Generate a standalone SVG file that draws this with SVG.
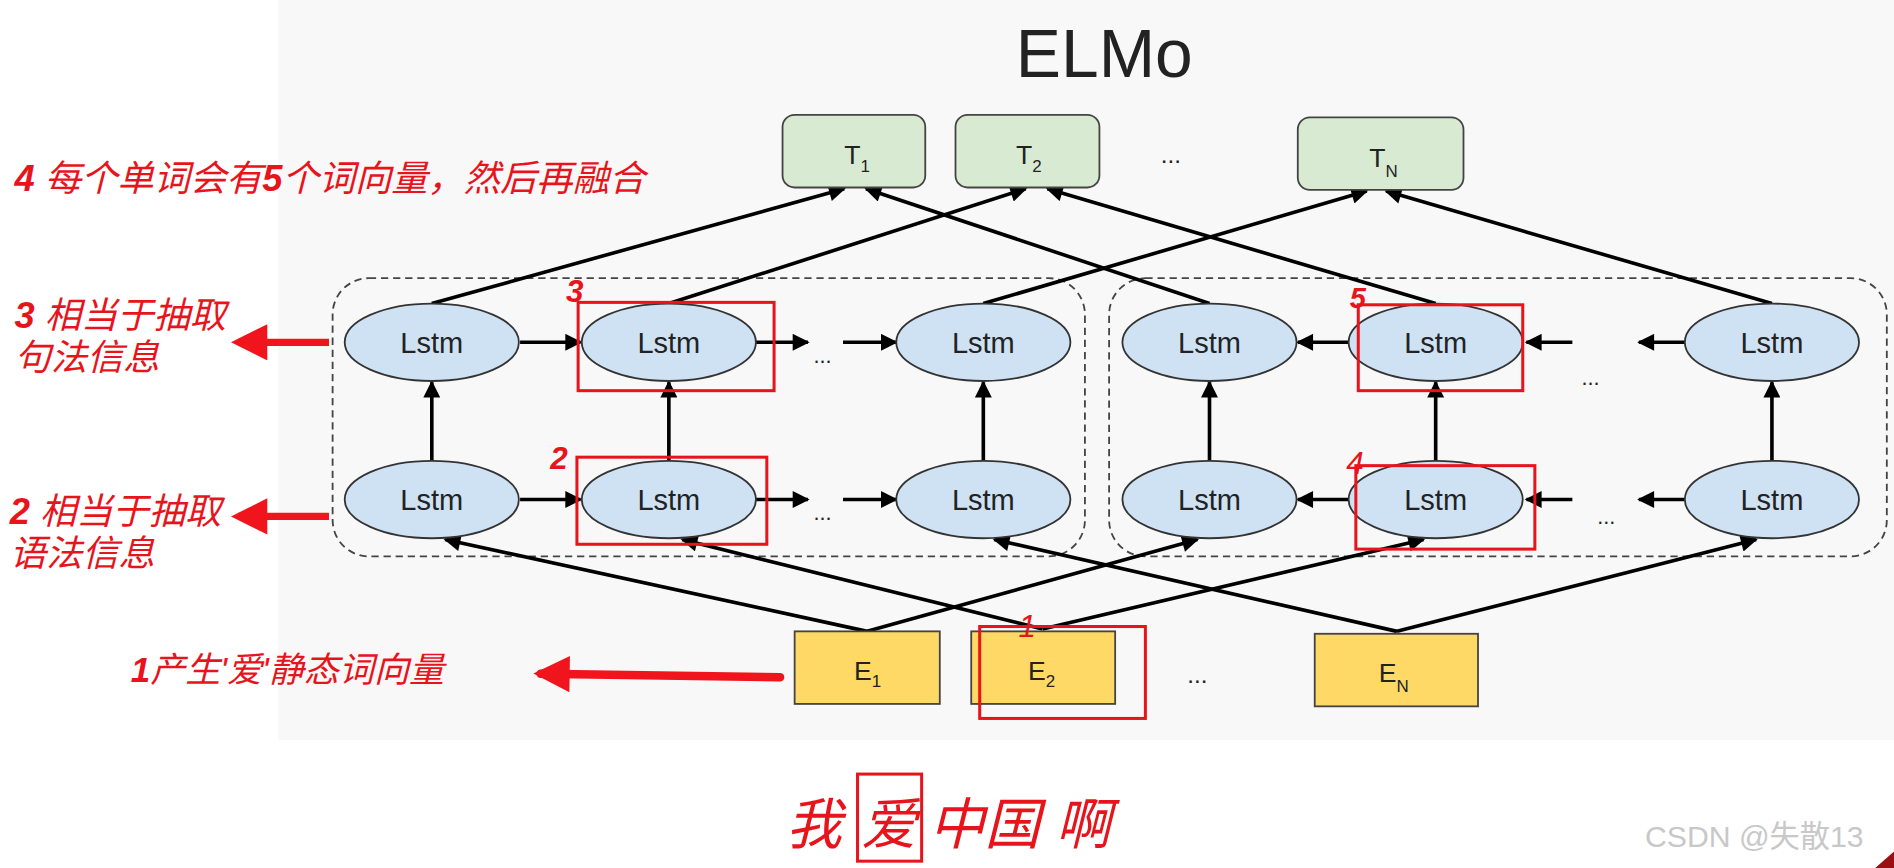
<svg xmlns="http://www.w3.org/2000/svg" width="1894" height="868" viewBox="0 0 1894 868">
<style>
.t{font-family:"Liberation Sans",Arial,sans-serif;fill:#222}
.box{stroke:#444;stroke-width:1.5}
.ell{fill:#cfe2f3;stroke:#333;stroke-width:1.5}
.ln{stroke:#000;stroke-width:3;fill:none}
.red{font-family:"Liberation Sans","Noto Sans CJK SC",sans-serif;font-style:italic;fill:#e8141c}
.b{font-weight:bold}
.rb{fill:none;stroke:#e8141c;stroke-width:2.5}
.dash{fill:none;stroke:#444;stroke-width:1.5;stroke-dasharray:6,4}
</style>
<defs>
<marker id="a" viewBox="0 0 10 10" refX="9" refY="5" markerWidth="16" markerHeight="14" orient="auto" markerUnits="userSpaceOnUse"><path d="M0,0 L10,5 L0,10 z" fill="#000"/></marker>
<marker id="ra" viewBox="0 0 10 10" refX="8" refY="5" markerWidth="34" markerHeight="30" orient="auto" markerUnits="userSpaceOnUse"><path d="M0,0 L10,5 L0,10 z" fill="#f0141c"/></marker>
</defs>
<rect width="1894" height="868" fill="#fff"/>
<g transform="scale(1.2095)">
<rect x="230" y="0" width="1336" height="612" fill="#f8f8f8"/>
<text class="t" x="913" y="64" font-size="56" text-anchor="middle">ELMo</text>

<g id="containers">
<rect class="dash" x="275" y="230" width="622" height="230" rx="30"/>
<rect class="dash" x="917" y="230" width="643" height="230" rx="30"/>
</g>

<g id="connectors">
<line class="ln" marker-end="url(#a)" x1="357" y1="251" x2="698" y2="156"/>
<line class="ln" marker-end="url(#a)" x1="553" y1="251" x2="848" y2="156"/>
<line class="ln" marker-end="url(#a)" x1="813" y1="251" x2="1130" y2="158"/>
<line class="ln" marker-end="url(#a)" x1="1000" y1="251" x2="716" y2="156"/>
<line class="ln" marker-end="url(#a)" x1="1187" y1="251" x2="866" y2="156"/>
<line class="ln" marker-end="url(#a)" x1="1465" y1="251" x2="1146" y2="158"/>
<line class="ln" marker-end="url(#a)" x1="357" y1="381" x2="357" y2="316"/>
<line class="ln" marker-end="url(#a)" x1="553" y1="381" x2="553" y2="316"/>
<line class="ln" marker-end="url(#a)" x1="813" y1="381" x2="813" y2="316"/>
<line class="ln" marker-end="url(#a)" x1="1000" y1="381" x2="1000" y2="316"/>
<line class="ln" marker-end="url(#a)" x1="1187" y1="381" x2="1187" y2="316"/>
<line class="ln" marker-end="url(#a)" x1="1465" y1="381" x2="1465" y2="316"/>
<line class="ln" marker-end="url(#a)" x1="430" y1="283" x2="480" y2="283"/>
<line class="ln" marker-end="url(#a)" x1="625" y1="283" x2="668" y2="283"/>
<line class="ln" marker-end="url(#a)" x1="697" y1="283" x2="741" y2="283"/>
<line class="ln" marker-end="url(#a)" x1="1115" y1="283" x2="1073" y2="283"/>
<line class="ln" marker-end="url(#a)" x1="1300" y1="283" x2="1262" y2="283"/>
<line class="ln" marker-end="url(#a)" x1="1393" y1="283" x2="1355" y2="283"/>
<line class="ln" marker-end="url(#a)" x1="430" y1="413" x2="480" y2="413"/>
<line class="ln" marker-end="url(#a)" x1="625" y1="413" x2="668" y2="413"/>
<line class="ln" marker-end="url(#a)" x1="697" y1="413" x2="741" y2="413"/>
<line class="ln" marker-end="url(#a)" x1="1115" y1="413" x2="1073" y2="413"/>
<line class="ln" marker-end="url(#a)" x1="1300" y1="413" x2="1262" y2="413"/>
<line class="ln" marker-end="url(#a)" x1="1393" y1="413" x2="1355" y2="413"/>
<line class="ln" marker-end="url(#a)" x1="717" y1="522" x2="368" y2="446"/>
<line class="ln" marker-end="url(#a)" x1="717" y1="522" x2="990" y2="446"/>
<line class="ln" marker-end="url(#a)" x1="862" y1="520" x2="564" y2="446"/>
<line class="ln" marker-end="url(#a)" x1="862" y1="520" x2="1177" y2="446"/>
<line class="ln" marker-end="url(#a)" x1="1155" y1="522" x2="822" y2="446"/>
<line class="ln" marker-end="url(#a)" x1="1155" y1="522" x2="1452" y2="446"/>
</g>

<g id="T1"><rect class="box" x="647" y="95" width="118" height="60" rx="10" fill="#d9ead3"/><text class="t" x="698" y="136" font-size="22">T<tspan font-size="14" dy="6">1</tspan></text></g>
<g id="T2"><rect class="box" x="790" y="95" width="119" height="60" rx="10" fill="#d9ead3"/><text class="t" x="840" y="136" font-size="22">T<tspan font-size="14" dy="6">2</tspan></text></g>
<text class="t" x="968" y="135" font-size="20" text-anchor="middle">...</text>
<g id="TN"><rect class="box" x="1073" y="97" width="137" height="60" rx="10" fill="#d9ead3"/><text class="t" x="1132" y="138" font-size="22">T<tspan font-size="14" dy="8">N</tspan></text></g>

<g id="L1"><ellipse class="ell" cx="357" cy="283" rx="72" ry="32"/><text class="t" x="357" y="292" font-size="24" text-anchor="middle">Lstm</text></g>
<g id="L2"><ellipse class="ell" cx="553" cy="283" rx="72" ry="32"/><text class="t" x="553" y="292" font-size="24" text-anchor="middle">Lstm</text></g>
<g id="L3"><ellipse class="ell" cx="813" cy="283" rx="72" ry="32"/><text class="t" x="813" y="292" font-size="24" text-anchor="middle">Lstm</text></g>
<g id="L4"><ellipse class="ell" cx="1000" cy="283" rx="72" ry="32"/><text class="t" x="1000" y="292" font-size="24" text-anchor="middle">Lstm</text></g>
<g id="L5"><ellipse class="ell" cx="1187" cy="283" rx="72" ry="32"/><text class="t" x="1187" y="292" font-size="24" text-anchor="middle">Lstm</text></g>
<g id="L6"><ellipse class="ell" cx="1465" cy="283" rx="72" ry="32"/><text class="t" x="1465" y="292" font-size="24" text-anchor="middle">Lstm</text></g>
<g id="B1"><ellipse class="ell" cx="357" cy="413" rx="72" ry="32"/><text class="t" x="357" y="422" font-size="24" text-anchor="middle">Lstm</text></g>
<g id="B2"><ellipse class="ell" cx="553" cy="413" rx="72" ry="32"/><text class="t" x="553" y="422" font-size="24" text-anchor="middle">Lstm</text></g>
<g id="B3"><ellipse class="ell" cx="813" cy="413" rx="72" ry="32"/><text class="t" x="813" y="422" font-size="24" text-anchor="middle">Lstm</text></g>
<g id="B4"><ellipse class="ell" cx="1000" cy="413" rx="72" ry="32"/><text class="t" x="1000" y="422" font-size="24" text-anchor="middle">Lstm</text></g>
<g id="B5"><ellipse class="ell" cx="1187" cy="413" rx="72" ry="32"/><text class="t" x="1187" y="422" font-size="24" text-anchor="middle">Lstm</text></g>
<g id="B6"><ellipse class="ell" cx="1465" cy="413" rx="72" ry="32"/><text class="t" x="1465" y="422" font-size="24" text-anchor="middle">Lstm</text></g>
<text class="t" x="680" y="300" font-size="18" text-anchor="middle">...</text>
<text class="t" x="1315" y="318" font-size="18" text-anchor="middle">...</text>
<text class="t" x="680" y="430" font-size="18" text-anchor="middle">...</text>
<text class="t" x="1328" y="433" font-size="18" text-anchor="middle">...</text>

<g id="E1"><rect class="box" x="657" y="522" width="120" height="60" fill="#ffd966"/><text class="t" x="706" y="562" font-size="22">E<tspan font-size="14" dy="6">1</tspan></text></g>
<g id="E2"><rect class="box" x="803" y="522" width="119" height="60" fill="#ffd966"/><text class="t" x="850" y="562" font-size="22">E<tspan font-size="14" dy="6">2</tspan></text></g>
<text class="t" x="990" y="565" font-size="20" text-anchor="middle">...</text>
<g id="EN"><rect class="box" x="1087" y="524" width="135" height="60" fill="#ffd966"/><text class="t" x="1140" y="564" font-size="22">E<tspan font-size="14" dy="8">N</tspan></text></g>

<g id="annotations">
<text class="red" x="12" y="158" font-size="30"><tspan class="b">4 </tspan>每个单词会有<tspan class="b">5</tspan>个词向量，然后再融合</text>
<text class="red" x="12" y="271" font-size="30"><tspan class="b">3 </tspan>相当于抽取</text>
<text class="red" x="12" y="306" font-size="30">句法信息</text>
<text class="red" x="8" y="433" font-size="30"><tspan class="b">2 </tspan>相当于抽取</text>
<text class="red" x="8" y="468" font-size="30">语法信息</text>
<text class="red" x="108" y="564" font-size="29"><tspan class="b">1</tspan>产生'爱'静态词向量</text>
<line x1="272" y1="283" x2="197" y2="283" stroke="#f0141c" stroke-width="6" marker-end="url(#ra)"/>
<line x1="272" y1="427" x2="197" y2="427" stroke="#f0141c" stroke-width="6" marker-end="url(#ra)"/>
<line x1="645" y1="560" x2="447" y2="557" stroke="#f0141c" stroke-width="7" stroke-linecap="round" marker-end="url(#ra)"/>
<rect class="rb" x="478" y="250" width="162" height="73"/>
<rect class="rb" x="477" y="378" width="157" height="72"/>
<rect class="rb" x="1123" y="252" width="136" height="71"/>
<rect class="rb" x="1121" y="385" width="148" height="69"/>
<rect class="rb" x="810" y="518" width="137" height="76"/>
<text class="red b" x="468" y="250" font-size="26">3</text>
<text class="red b" x="455" y="388" font-size="26">2</text>
<text class="red b" x="1116" y="255" font-size="24">5</text>
<text class="red" x="1113" y="392" font-size="26">4</text>
<text class="red" x="842" y="527" font-size="26">1</text>
<text class="red" x="650" y="698" font-size="46">我</text>
<rect class="rb" x="709" y="640" width="53" height="72"/>
<text class="red" x="712" y="698" font-size="46">爱</text>
<text class="red" x="768" y="698" font-size="46">中国 啊</text>
<text x="1360" y="700" font-size="25" fill="#c8c8c8" font-family="Liberation Sans,'Noto Sans CJK SC',sans-serif">CSDN @失散13</text>
<path d="M1550,718 L1566,704 L1566,718 z" fill="#9b0f14"/>
</g>
</g>
</svg>
